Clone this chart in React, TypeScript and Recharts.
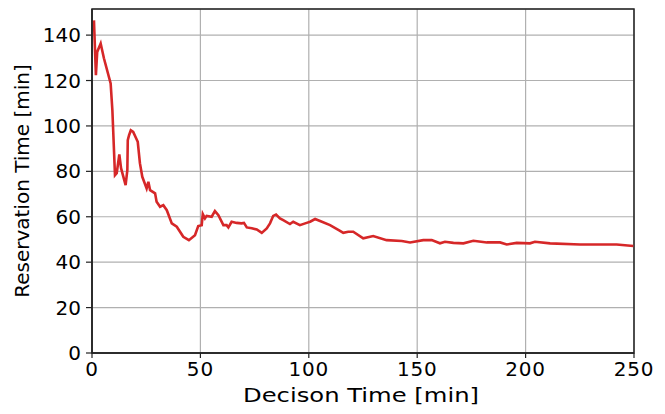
import React from 'react';
import { LineChart, Line, XAxis, YAxis, CartesianGrid, ReferenceArea, Label } from 'recharts';

const decisionTime: number[] = [
  0.9, 1.8, 2.4, 4.0, 5.5, 8.6, 9.4, 10.6, 11.4, 12.6, 13.4, 15.5, 16.3, 16.5, 17.1, 17.9, 19.0, 21.1, 22.1, 23.2,
  25.2, 26.0, 26.8, 29.1, 29.8, 31.4, 32.9, 34.5, 36.8, 39.1, 42.1, 44.7, 47.5, 49.0, 50.6, 51.1, 52.1, 52.9, 55.2, 56.7,
  58.3, 60.6, 62.1, 62.9, 64.4, 66.7, 69.0, 70.1, 71.4, 73.7, 76.0, 78.3, 80.6, 82.1, 83.6, 84.9, 86.7, 88.2, 91.3, 92.8,
  95.9, 99.0, 100.6, 102.9, 105.2, 109.8, 114.4, 115.9, 118.2, 120.5, 125.1, 129.7, 135.9, 142.9, 146.7, 152.8, 156.7, 160.5, 162.8, 166.7,
  171.3, 175.9, 182.1, 188.2, 191.3, 195.9, 202.0, 204.3, 211.3, 225.1, 242.0, 249.7,
];

const reservationTime: number[] = [
  146.5, 122.3, 132.6, 136.3, 129.8, 118.7, 106.9, 78.3, 79.2, 87.5, 81.4, 73.9, 80.5, 93.7, 95.9, 98.1, 97.4, 93.0, 83.6, 77.6,
  72.5, 75.4, 71.7, 70.3, 66.6, 64.4, 65.1, 62.9, 57.1, 55.6, 51.2, 49.7, 51.9, 55.9, 56.3, 61.2, 59.3, 60.4, 60.0, 62.5,
  60.7, 56.3, 56.3, 55.3, 57.8, 57.3, 57.1, 57.3, 55.3, 54.9, 54.4, 52.9, 54.9, 57.1, 60.4, 61.0, 59.3, 58.5, 56.8, 57.8,
  56.3, 57.3, 57.8, 59.0, 58.1, 56.3, 53.8, 52.9, 53.4, 53.4, 50.5, 51.5, 49.7, 49.3, 48.7, 49.7, 49.7, 48.3, 49.0, 48.5,
  48.3, 49.4, 48.7, 48.7, 47.8, 48.5, 48.3, 49.0, 48.3, 47.8, 47.8, 47.1,
];

const xTicks: number[] = [0, 50, 100, 150, 200, 250];
const yTicks: number[] = [0, 20, 40, 60, 80, 100, 120, 140];

const data = decisionTime.map((t, i) => ({ t, r: reservationTime[i] }));

const FONT = 'DejaVu Sans';

const XLabel = (props: any) => {
  const vb = props.viewBox || {};
  const cx = (vb.x ?? 92) + (vb.width ?? 542) / 2 - 2;
  return (
    <text
      x={cx}
      y={401.5}
      textAnchor="middle"
      textLength={236}
      lengthAdjust="spacingAndGlyphs"
      style={{ fontSize: 20, fontFamily: FONT, fill: '#000' }}
    >
      Decison Time [min]
    </text>
  );
};

export default function App() {
  return (
    <div style={{ position: 'absolute', left: 0, top: 0, width: 665, height: 414, background: '#fff' }}>
      <LineChart width={665} height={414} data={data} margin={{ top: 9, right: 31, bottom: 0, left: 0 }}>
        <CartesianGrid stroke="#b0b0b0" strokeWidth={1.2} vertical horizontal />
        <XAxis
          dataKey="t"
          type="number"
          domain={[0, 250]}
          ticks={xTicks}
          height={61}
          tickSize={5}
          tickMargin={4}
          stroke="#000"
          tick={{ fill: '#000', fontSize: 20, fontFamily: FONT, letterSpacing: 0.8 }}
          axisLine={{ stroke: '#222', strokeWidth: 1.5 }}
          tickLine={{ stroke: '#222', strokeWidth: 1.2 }}
          allowDataOverflow
        >
          <Label content={XLabel} position="insideBottom" />
        </XAxis>
        <YAxis
          type="number"
          domain={[0, 151.5]}
          ticks={yTicks}
          width={92}
          tickSize={6}
          tickMargin={5}
          stroke="#000"
          tick={{ fill: '#000', fontSize: 20, fontFamily: FONT }}
          axisLine={{ stroke: '#222', strokeWidth: 1.5 }}
          tickLine={{ stroke: '#222', strokeWidth: 1.2 }}
          allowDataOverflow
        >
          <Label value="Reservation Time [min]" angle={-90} position="insideLeft" offset={22} style={{ fontSize: 20, fontFamily: FONT, fill: '#000', textAnchor: 'middle' }} />
        </YAxis>
        <ReferenceArea x1={0} x2={250} y1={0} y2={151.5} fill="none" stroke="#222" strokeWidth={1.5} ifOverflow="visible" />
        <Line
          type="linear"
          dataKey="r"
          stroke="#d62728"
          strokeWidth={2.6}
          dot={false}
          isAnimationActive={false}
        />
      </LineChart>
    </div>
  );
}
